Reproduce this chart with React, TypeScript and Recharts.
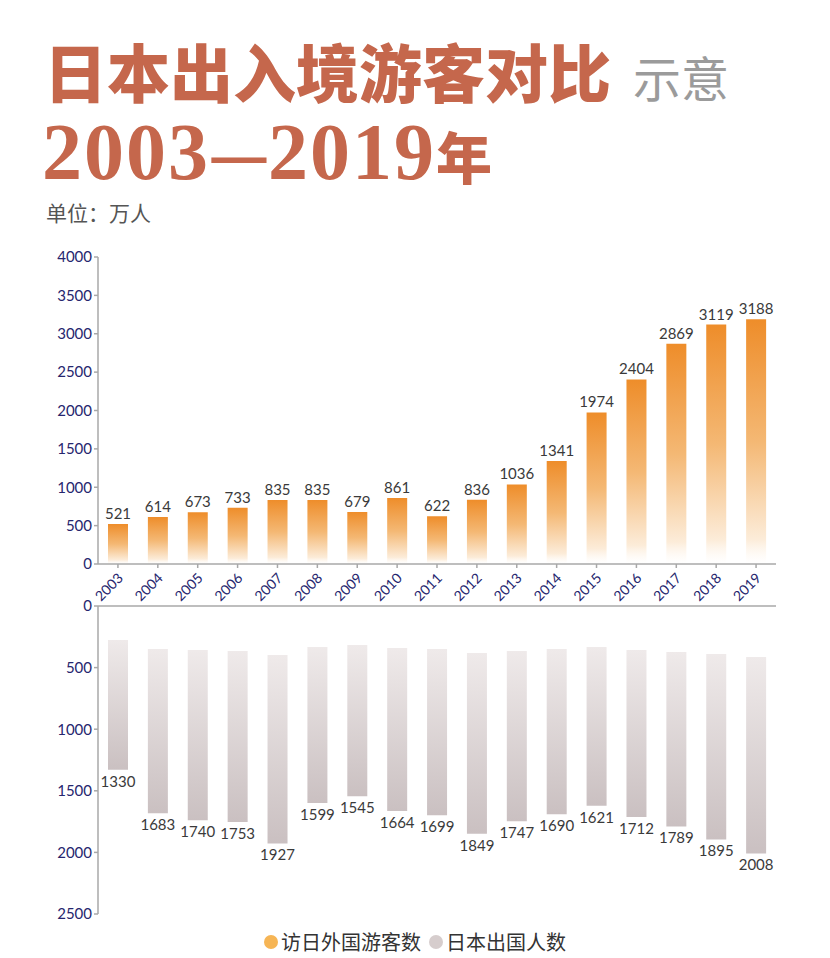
import { BarChart, Bar, XAxis, YAxis, LabelList } from 'recharts';

const YEARS = ['2003', '2004', '2005', '2006', '2007', '2008', '2009', '2010', '2011', '2012', '2013', '2014', '2015', '2016', '2017', '2018', '2019'];
const INBOUND = [521, 614, 673, 733, 835, 835, 679, 861, 622, 836, 1036, 1341, 1974, 2404, 2869, 3119, 3188];
const OUTBOUND = [1330, 1683, 1740, 1753, 1927, 1599, 1545, 1664, 1699, 1849, 1747, 1690, 1621, 1712, 1789, 1895, 2008];
const TOP_TICKS = [0, 500, 1000, 1500, 2000, 2500, 3000, 3500, 4000];
const BOTTOM_TICKS = [0, 500, 1000, 1500, 2000, 2500];

const data = YEARS.map((year, i) => ({ year, inbound: INBOUND[i], outbound: OUTBOUND[i] }));

const NAVY = '#26266e';
const AXIS = '#a8a8a8';
const NUM_FONT = "Lato, 'Noto Sans', sans-serif";
const CJK_FONT = "'Noto Sans CJK SC', sans-serif";
const SERIF = "'Liberation Serif', serif";

function YearTick({ x, y, payload }: { x?: number; y?: number; payload?: { value: string } }) {
  return (
    <g transform={`translate(${x},${y})`}>
      <text
        transform="translate(-9, 17) rotate(-45)"
        textAnchor="middle"
        dy="0.35em"
        fill={NAVY}
        fontSize={14}
        fontFamily={NUM_FONT}
      >
        {payload?.value}
      </text>
    </g>
  );
}

function BelowLabel(props: { x?: number; y?: number; width?: number; height?: number; value?: number }) {
  const { x = 0, y = 0, width = 0, height = 0, value } = props;
  const end = Math.max(y, y + height);
  return (
    <text x={x + width / 2} y={end + 17} textAnchor="middle" fill="#3a3a3a" fontSize={15} fontFamily={NUM_FONT}>
      {value}
    </text>
  );
}

export default function App() {
  return (
    <div style={{ position: 'absolute', left: 0, top: 0, width: 830, height: 958, background: '#fff', overflow: 'hidden' }}>
      <div style={{ position: 'absolute', left: 44, top: 38, fontFamily: CJK_FONT, lineHeight: 1, whiteSpace: 'nowrap' }}>
        <span style={{ fontSize: 63, fontWeight: 900, color: '#c5674c' }}>日本出入境游客对比</span>
        <span style={{ fontSize: 48, fontWeight: 400, color: '#9b9b9b', marginLeft: 22 }}>示意</span>
      </div>
      <div style={{ position: 'absolute', left: 42, top: 112, lineHeight: 1, whiteSpace: 'nowrap', color: '#c5674c' }}>
        <span style={{ fontSize: 80, fontWeight: 700, fontFamily: SERIF, letterSpacing: 2 }}>2003</span>
        <span
          style={{
            display: 'inline-block',
            fontSize: 80,
            fontWeight: 700,
            fontFamily: SERIF,
            transform: 'scaleX(0.68)',
            margin: '0 -11px',
          }}
        >
          —
        </span>
        <span style={{ fontSize: 80, fontWeight: 700, fontFamily: SERIF, letterSpacing: 2 }}>2019</span>
        <span style={{ fontSize: 56, fontWeight: 900, fontFamily: CJK_FONT }}>年</span>
      </div>
      <div style={{ position: 'absolute', left: 46, top: 202, fontSize: 21, color: '#555', fontFamily: CJK_FONT, lineHeight: 1 }}>
        单位：万人
      </div>

      <div style={{ position: 'absolute', left: 0, top: 240 }}>
        <BarChart width={830} height={370} data={data} margin={{ top: 17, right: 54, bottom: 0, left: 0 }}>
          <defs>
            <linearGradient id="orangeGrad" x1="0" y1="0" x2="0" y2="1">
              <stop offset="0%" stopColor="#ee8d2a" />
              <stop offset="50%" stopColor="#f4b874" />
              <stop offset="90%" stopColor="#fcecd9" />
              <stop offset="100%" stopColor="#ffffff" stopOpacity={0.4} />
            </linearGradient>
          </defs>
          <XAxis
            dataKey="year"
            height={46}
            interval={0}
            stroke={AXIS}
            strokeWidth={1.5}
            tickSize={4}
            tickMargin={2}
            tick={<YearTick />}
          />
          <YAxis
            width={98}
            domain={[0, 4000]}
            ticks={TOP_TICKS}
            stroke={AXIS}
            strokeWidth={1.5}
            tickSize={4}
            tick={{ fill: NAVY, fontSize: 15, fontFamily: NUM_FONT }}
          />
          <Bar dataKey="inbound" fill="url(#orangeGrad)" barSize={20} isAnimationActive={false}>
            <LabelList dataKey="inbound" position="top" offset={5} fill="#3a3a3a" fontSize={15} fontFamily={NUM_FONT} />
          </Bar>
        </BarChart>
      </div>

      <div style={{ position: 'absolute', left: 0, top: 590 }}>
        <BarChart width={830} height={340} data={data} margin={{ top: 0, right: 54, bottom: 16, left: 0 }}>
          <defs>
            <linearGradient id="grayGrad" x1="0" y1="0" x2="0" y2="1">
              <stop offset="0%" stopColor="#ffffff" stopOpacity={0} />
              <stop offset="20.7%" stopColor="#ffffff" stopOpacity={0} />
              <stop offset="20.7%" stopColor="#efeaea" />
              <stop offset="100%" stopColor="#cac0c1" />
            </linearGradient>
          </defs>
          <XAxis
            dataKey="year"
            orientation="top"
            height={16}
            interval={0}
            stroke={AXIS}
            strokeWidth={1.5}
            tickSize={4}
            tick={false}
          />
          <YAxis
            width={98}
            reversed
            domain={[0, 2500]}
            ticks={BOTTOM_TICKS}
            stroke={AXIS}
            strokeWidth={1.5}
            tickSize={4}
            tick={{ fill: NAVY, fontSize: 15, fontFamily: NUM_FONT }}
          />
          <Bar dataKey="outbound" fill="url(#grayGrad)" barSize={20} isAnimationActive={false}>
            <LabelList dataKey="outbound" content={<BelowLabel />} />
          </Bar>
        </BarChart>
      </div>

      <div
        style={{
          position: 'absolute',
          left: 0,
          top: 932,
          width: 830,
          display: 'flex',
          justifyContent: 'center',
          alignItems: 'center',
          fontFamily: CJK_FONT,
          fontSize: 20,
          color: '#333',
          lineHeight: 1,
        }}
      >
        <span style={{ width: 14, height: 14, borderRadius: 7, background: '#f6b555', marginRight: 3 }} />
        <span>访日外国游客数</span>
        <span style={{ width: 14, height: 14, borderRadius: 7, background: '#d6cdcd', marginLeft: 8, marginRight: 3 }} />
        <span>日本出国人数</span>
      </div>
    </div>
  );
}
